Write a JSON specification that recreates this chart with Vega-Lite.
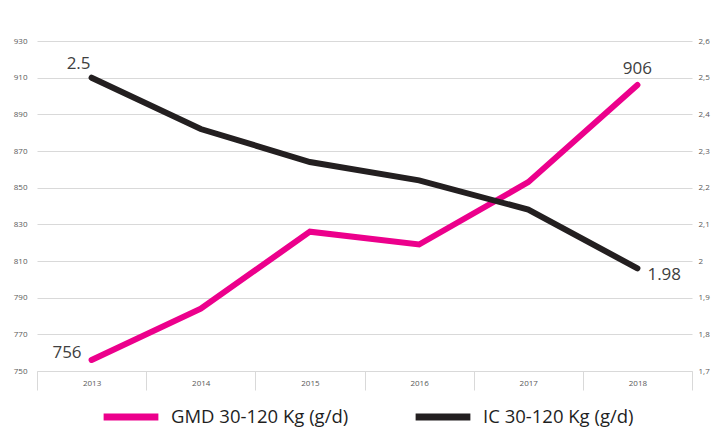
{
  "$schema": "https://vega.github.io/schema/vega-lite/v6.json",
  "width": 655,
  "height": 330,
  "autosize": {"type": "none"},
  "padding": {"left": 37, "top": 41, "right": 19, "bottom": 57},
  "background": "white",
  "config": {
    "view": {"stroke": null},
    "font": "Open Sans",
    "axis": {"labelFont": "Open Sans", "labelColor": "#595959", "labelFontSize": 8}
  },
  "data": {
    "values": [
      {"year": "2013", "series": "GMD 30-120 Kg (g/d)", "value": 756},
      {"year": "2014", "series": "GMD 30-120 Kg (g/d)", "value": 784},
      {"year": "2015", "series": "GMD 30-120 Kg (g/d)", "value": 826},
      {"year": "2016", "series": "GMD 30-120 Kg (g/d)", "value": 819},
      {"year": "2017", "series": "GMD 30-120 Kg (g/d)", "value": 853},
      {"year": "2018", "series": "GMD 30-120 Kg (g/d)", "value": 906},
      {"year": "2013", "series": "IC 30-120 Kg (g/d)", "value": 2.5},
      {"year": "2014", "series": "IC 30-120 Kg (g/d)", "value": 2.36},
      {"year": "2015", "series": "IC 30-120 Kg (g/d)", "value": 2.27},
      {"year": "2016", "series": "IC 30-120 Kg (g/d)", "value": 2.22},
      {"year": "2017", "series": "IC 30-120 Kg (g/d)", "value": 2.14},
      {"year": "2018", "series": "IC 30-120 Kg (g/d)", "value": 1.98}
    ]
  },
  "encoding": {
    "x": {
      "field": "year",
      "type": "ordinal",
      "scale": {"paddingInner": 0, "paddingOuter": 0},
      "axis": {
        "title": null,
        "labelAngle": 0,
        "tickBand": "extent",
        "tickSize": 19,
        "tickColor": "#d9d9d9",
        "domainColor": "#d9d9d9",
        "labelPadding": -7,
        "labelBaseline": "middle"
      }
    }
  },
  "layer": [
    {
      "transform": [{"filter": "datum.series == 'GMD 30-120 Kg (g/d)'"}],
      "encoding": {
        "y": {
          "field": "value",
          "type": "quantitative",
          "scale": {"domain": [750, 930], "zero": false, "nice": false},
          "axis": {
            "title": null,
            "orient": "left",
            "values": [750, 770, 790, 810, 830, 850, 870, 890, 910, 930],
            "ticks": false,
            "domain": false,
            "labelPadding": 10,
            "grid": true,
            "gridColor": "#d9d9d9",
            "gridWidth": 1
          }
        }
      },
      "layer": [
        {
          "mark": {"type": "line", "strokeWidth": 6, "strokeCap": "round"},
          "encoding": {
            "color": {
              "field": "series",
              "type": "nominal",
              "scale": {"domain": ["GMD 30-120 Kg (g/d)", "IC 30-120 Kg (g/d)"], "range": ["#ec008c", "#231f20"]},
              "legend": {
                "title": null,
                "orient": "none",
                "direction": "horizontal",
                "legendX": 63,
                "legendY": 345,
                "symbolType": "stroke",
                "symbolSize": 3000,
                "symbolStrokeWidth": 7,
                "labelFontSize": 18.5,
                "labelFont": "Open Sans",
                "labelColor": "#1f1f1f",
                "labelOffset": 9,
                "columnPadding": 52,
                "labelLimit": 300
              }
            }
          }
        },
        {
          "transform": [{"filter": "datum.year == '2013'"}],
          "mark": {"type": "text", "align": "right", "baseline": "middle", "dx": -10, "dy": -7, "fontSize": 17, "color": "#404040"},
          "encoding": {"text": {"field": "value", "type": "quantitative"}}
        },
        {
          "transform": [{"filter": "datum.year == '2018'"}],
          "mark": {"type": "text", "align": "center", "baseline": "middle", "dx": 0, "dy": -16, "fontSize": 17, "color": "#404040"},
          "encoding": {"text": {"field": "value", "type": "quantitative"}}
        }
      ]
    },
    {
      "transform": [{"filter": "datum.series == 'IC 30-120 Kg (g/d)'"}],
      "encoding": {
        "y": {
          "field": "value",
          "type": "quantitative",
          "scale": {"domain": [1.7, 2.6], "zero": false, "nice": false},
          "axis": {
            "title": null,
            "orient": "right",
            "values": [1.7, 1.8, 1.9, 2.0, 2.1, 2.2, 2.3, 2.4, 2.5, 2.6],
            "labelExpr": "replace(format(datum.value, '.1~f'), '.', ',')",
            "ticks": false,
            "domain": false,
            "grid": false,
            "labelPadding": 6
          }
        }
      },
      "layer": [
        {
          "mark": {"type": "line", "strokeWidth": 6, "strokeCap": "round"},
          "encoding": {"color": {"field": "series", "type": "nominal"}}
        },
        {
          "transform": [{"filter": "datum.year == '2013'"}],
          "mark": {"type": "text", "align": "center", "baseline": "middle", "dx": -13, "dy": -14, "fontSize": 17, "color": "#404040"},
          "encoding": {"text": {"field": "value", "type": "quantitative", "format": ".1f"}}
        },
        {
          "transform": [{"filter": "datum.year == '2018'"}],
          "mark": {"type": "text", "align": "left", "baseline": "middle", "dx": 10, "dy": 7, "fontSize": 17, "color": "#404040"},
          "encoding": {"text": {"field": "value", "type": "quantitative", "format": ".2f"}}
        }
      ]
    }
  ],
  "resolve": {"scale": {"y": "independent"}}
}
